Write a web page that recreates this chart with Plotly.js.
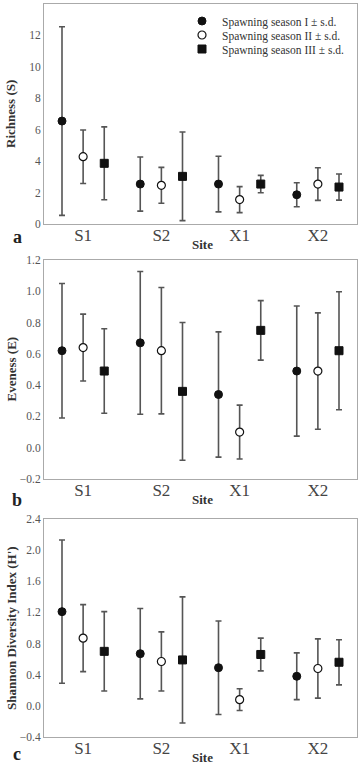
<!DOCTYPE html>
<html><head><meta charset="utf-8">
<script src="https://cdn.plot.ly/plotly-3.0.1.min.js"></script>
<style>html,body{margin:0;padding:0;background:#fff}#chart{width:359px;height:765px}</style>
</head><body><div id="chart"></div>
<script>
const sites = ['S1','S2','X1','X2'];
const seasons = ['Spawning season I ± s.d.','Spawning season II ± s.d.','Spawning season III ± s.d.'];
// Richness (S)
const richI = [6.55, 2.54, 2.54, 1.86];
const richIsd = [6.0, 1.72, 1.77, 0.76];
const richII = [4.28, 2.46, 1.55, 2.54];
const richIIsd = [1.70, 1.14, 0.83, 1.04];
const richIII = [3.86, 3.03, 2.54, 2.35];
const richIIIsd = [2.32, 2.82, 0.55, 0.83];
// Eveness (E)
const evenI = [0.62, 0.67, 0.34, 0.49];
const evenIsd = [0.43, 0.456, 0.40, 0.416];
const evenII = [0.64, 0.62, 0.10, 0.49];
const evenIIsd = [0.214, 0.404, 0.172, 0.372];
const evenIII = [0.49, 0.36, 0.75, 0.62];
const evenIIIsd = [0.27, 0.44, 0.19, 0.377];
// Shannon (H')
const shanI = [1.21, 0.67, 0.49, 0.38];
const shanIsd = [0.92, 0.58, 0.60, 0.30];
const shanII = [0.87, 0.57, 0.08, 0.48];
const shanIIsd = [0.43, 0.38, 0.14, 0.38];
const shanIII = [0.70, 0.59, 0.66, 0.56];
const shanIIIsd = [0.51, 0.81, 0.21, 0.29];

const offsets = [-0.27, 0, 0.27];
const markerStyles = [
  {symbol:'circle', size:8, color:'#111', line:{color:'#111', width:1}},
  {symbol:'circle', size:8, color:'#fff', line:{color:'#111', width:1.2}},
  {symbol:'square', size:8, color:'#111', line:{color:'#111', width:1}}
];
const legendIds = ['legend','legend2','legend3'];
const panels = [
  {means:[richI,richII,richIII], sds:[richIsd,richIIsd,richIIIsd], xa:'x', ya:'y'},
  {means:[evenI,evenII,evenIII], sds:[evenIsd,evenIIsd,evenIIIsd], xa:'x2', ya:'y2'},
  {means:[shanI,shanII,shanIII], sds:[shanIsd,shanIIsd,shanIIIsd], xa:'x3', ya:'y3'}
];
const traces = [];
panels.forEach((p, pi) => {
  for (let s = 0; s < 3; s++) {
    traces.push({
      type:'scatter', mode:'markers',
      x: sites.map((_, i) => i + offsets[s]),
      y: p.means[s],
      error_y:{type:'data', array:p.sds[s], visible:true, color:'#555', thickness:1.6, width:3},
      marker: markerStyles[s],
      name: seasons[s],
      showlegend: pi === 0,
      legend: legendIds[s],
      xaxis: p.xa, yaxis: p.ya
    });
  }
});

const serif = 'Liberation Serif, Times New Roman, serif';
function xax(domainAnchor){
  return {range:[-0.5,3.5], tickvals:[0,1,2,3], ticktext:sites, showgrid:false, zeroline:false,
    showline:true, mirror:true, linecolor:'#aaa', linewidth:1, ticks:'', ticklabelstandoff:-4,
    tickfont:{family:serif, size:17, color:'#444'}, anchor:domainAnchor, fixedrange:true};
}
function yax(range, dtick, fmt, dom, anchor){
  return {range:range, dtick:dtick, tick0:range[0], tickformat:fmt, domain:dom, anchor:anchor,
    showgrid:false, zeroline:false, showline:true, mirror:true, linecolor:'#aaa', linewidth:1,
    ticks:'', ticklen:0, tickfont:{family:serif, size:11.5, color:'#555'}};
}
const dA=[0.6999,1], dB=[0.352,0.6508], dC=[0,0.2974];
const legendRows = [21, 35, 49];
function leg(row){
  return {x:(182-44)/313, y:1-(row-4)/733, xanchor:'left', yanchor:'middle', bgcolor:'rgba(0,0,0,0)',
    font:{family:serif, size:11.5, color:'#333'}, itemwidth:30, borderwidth:0};
}
const layout = {
  width:359, height:765,
  margin:{l:44, r:2, t:4, b:28},
  paper_bgcolor:'#fff', plot_bgcolor:'#fff',
  showlegend:true,
  legend: leg(legendRows[0]),
  legend2: leg(legendRows[1]),
  legend3: leg(legendRows[2]),
  xaxis: Object.assign(xax('y'), {domain:[0,1]}),
  xaxis2: Object.assign(xax('y2'), {domain:[0,1]}),
  xaxis3: Object.assign(xax('y3'), {domain:[0,1]}),
  yaxis: yax([0,14], 2, 'd', dA, 'x'),
  yaxis2: yax([-0.2,1.2], 0.2, '.1f', dB, 'x2'),
  yaxis3: yax([-0.4,2.4], 0.4, '.1f', dC, 'x3'),
  annotations: []
};
const ytitles = ['Richness (S)','Eveness (E)',"Shannon Diversity Index (H')"];
const doms = [dA,dB,dC];
const letters = ['a','b','c'];
const letterY = [237, 500, 754];
const siteY = [245, 499, 757];
doms.forEach((d, i) => {
  layout.annotations.push({xref:'paper', yref:'paper', x:(11-44)/313, y:(d[0]+d[1])/2,
    text:'<b>'+ytitles[i]+'</b>', textangle:-90, showarrow:false, xanchor:'center', yanchor:'middle',
    font:{family:serif, size:13, color:'#333'}});
  layout.annotations.push({xref:'paper', yref:'paper', x:(202-44)/313, y:1-(siteY[i]-4)/733,
    text:'<b>Site</b>', showarrow:false, xanchor:'center', yanchor:'middle',
    font:{family:serif, size:13, color:'#333'}});
  layout.annotations.push({xref:'paper', yref:'paper', x:(17-44)/313, y:1-(letterY[i]-4)/733,
    text:'<b>'+letters[i]+'</b>', showarrow:false, xanchor:'center', yanchor:'middle',
    font:{family:serif, size:18, color:'#222'}});
});
Plotly.newPlot('chart', traces, layout, {displayModeBar:false, staticPlot:true});
</script></body></html>
